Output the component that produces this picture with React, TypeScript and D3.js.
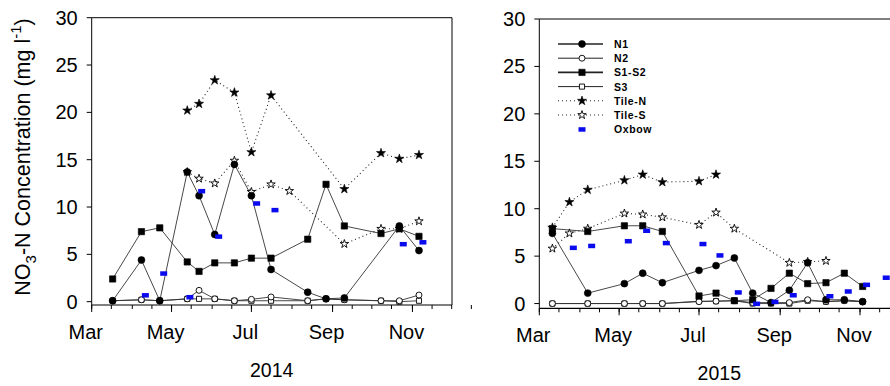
import React from 'react';
import * as d3 from 'd3';

// sampling dates
const dates2014 = ['2014-03-17', '2014-04-08', '2014-04-22', '2014-05-13', '2014-05-22', '2014-06-03', '2014-06-18', '2014-07-01', '2014-07-16', '2014-07-30', '2014-08-13', '2014-08-27', '2014-09-10', '2014-10-08', '2014-10-22', '2014-11-06'];
const dates2015 = ['2015-03-11', '2015-03-24', '2015-04-07', '2015-05-05', '2015-05-19', '2015-06-03', '2015-07-01', '2015-07-14', '2015-07-28', '2015-08-11', '2015-08-25', '2015-09-08', '2015-09-22', '2015-10-06', '2015-10-20', '2015-11-03'];

const n1_2014 = [0.1, 4.4, 0.1, 13.7, 11.2, 7.1, 14.5, 11.2, 3.4, null, 1.0, 0.3, 0.4, null, 8.0, 5.4];
const n2_2014 = [0.1, 0.2, 0.1, 0.3, 1.2, 0.3, 0.1, 0.25, 0.5, null, 0.1, 0.3, 0.2, 0.1, 0.1, 0.7];
const s1s2_2014 = [2.4, 7.4, 7.8, 4.2, 3.2, 4.1, 4.1, 4.6, 4.6, null, 6.6, 12.4, 8.0, 7.2, 7.7, 6.9];
const s3_2014 = [0.1, 0.2, 0.1, 0.3, 0.3, 0.3, 0.1, 0.1, 0.1, null, 0.1, 0.3, 0.2, 0.1, 0.0, 0.1];
const tileN_2014 = [null, null, null, 20.2, 20.9, 23.4, 22.1, 15.8, 21.8, null, null, null, 11.9, 15.7, 15.1, 15.5];
const tileS_2014 = [null, null, null, 13.7, 13.0, 12.5, 14.9, 11.6, 12.4, 11.7, null, null, 6.1, 7.7, 7.7, 8.5];
const oxDates2014 = ['2014-04-11', '2014-04-25', '2014-05-15', '2014-05-24', '2014-06-06', '2014-07-05', '2014-07-19', '2014-10-25', '2014-11-09'];
const oxbow2014 = [0.7, 3.0, 0.5, 11.7, 6.9, 10.4, 9.7, 6.1, 6.3];

const n1_2015 = [7.4, null, 1.1, 2.1, 3.2, 2.2, 3.5, 4.0, 4.8, 1.1, 0.1, 1.4, 4.3, 0.4, 0.4, 0.2];
const n2_2015 = [0.0, null, 0.0, 0.0, 0.0, 0.0, 0.2, 0.25, 0.3, 0.1, 0.1, 0.1, 0.4, 0.2, 0.3, 0.2];
const s1s2_2015 = [7.9, null, 7.6, 8.2, 8.2, 7.6, 0.8, 1.1, 0.3, 0.4, 1.6, 3.2, 2.1, 2.2, 3.2, 1.8];
const s3_2015 = [0.0, null, 0.0, 0.0, 0.0, 0.0, 0.25, 0.25, 0.3, 0.0, 0.0, 0.0, 0.3, 0.2, 0.3, 0.2];
const tileN_2015 = [8.0, 10.7, 12.0, 13.0, 13.6, 12.8, 12.9, 13.6, null, null, null, null, null, null, null, null];
const tileS_2015 = [5.8, 7.4, 7.9, 9.5, 9.4, 9.1, 8.3, 9.6, 7.9, null, null, 4.3, 4.4, 4.5, null, null];
const oxDates2015 = ['2015-03-27', '2015-04-10', '2015-05-08', '2015-05-22', '2015-06-06', '2015-07-04', '2015-07-17', '2015-07-31', '2015-08-14', '2015-08-28', '2015-09-11', '2015-10-09', '2015-10-23', '2015-11-06', '2015-11-21'];
const oxbow2015 = [5.9, 6.1, 6.6, 7.7, 6.4, 6.3, 5.1, 1.2, 0.0, 0.2, 0.9, 0.8, 1.3, 2.0, 2.75];

const yTicks = [0, 5, 10, 15, 20, 25, 30];
const monthLabels = ['Mar', 'May', 'Jul', 'Sep', 'Nov'];
const legendNames = ['N1', 'N2', 'S1-S2', 'S3', 'Tile-N', 'Tile-S', 'Oxbow'];

const parse = d3.timeParse('%Y-%m-%d');
const font = 'Liberation Sans, Arial, sans-serif';
const BLUE = '#0a0aee';

type Style = { shape: 'circle' | 'square' | 'star'; filled: boolean; dotted: boolean };
const styles: Style[] = [
  { shape: 'circle', filled: true, dotted: false },
  { shape: 'circle', filled: false, dotted: false },
  { shape: 'square', filled: true, dotted: false },
  { shape: 'square', filled: false, dotted: false },
  { shape: 'star', filled: true, dotted: true },
  { shape: 'star', filled: false, dotted: true },
];
// open markers first, filled ones on top
const markerOrder = [5, 3, 1, 4, 2, 0];

const symbolPath = (s: Style) => {
  const t = s.shape === 'circle' ? d3.symbolCircle : s.shape === 'square' ? d3.symbolSquare : d3.symbolStar;
  const size = s.shape === 'star' ? (s.filled ? 26 : 22) : s.shape === 'circle' ? (s.filled ? 38 : 28) : (s.filled ? 40 : 26);
  return d3.symbol().type(t).size(size)()!;
};

function Marker({ s, x, y }: { s: Style; x: number; y: number }) {
  return (
    <path d={symbolPath(s)} transform={`translate(${x},${y})`}
      fill={s.filled ? '#000' : '#fff'} stroke="#000" strokeWidth={s.filled ? 0.6 : 0.9} />
  );
}

function Panel({ year, left, top, bottom, yMin, dates, series, oxDates, oxVals, right }:
  { year: number; left: number; top: number; bottom: number; yMin: number; dates: string[]; series: (number | null)[][]; oxDates: string[]; oxVals: number[]; right: number }) {
  const x = d3.scaleTime()
    .domain([new Date(year, 2, 1), new Date(year, 11, 1)])
    .range([left, left + 360]);
  const y = d3.scaleLinear().domain([yMin, 30]).range([bottom, top]);
  const d = dates.map(parse) as Date[];
  const line = d3.line<[Date, number]>().x(p => x(p[0])).y(p => y(p[1]));

  const majors = [2, 4, 6, 8, 10].map(m => new Date(year, m, 1));
  const minors: Date[] = [];
  for (let m = 2; m < 12; m++) {
    minors.push(new Date(year, m, 1));
    minors.push(new Date(year, m, 16));
  }

  return (
    <g>
      <path d={`M${left},${bottom}V${top}H${right}${right < 890 ? `V${bottom}` : ''}`} fill="none" stroke="#000" strokeWidth={1} />
      <line x1={left} x2={right} y1={bottom} y2={bottom} stroke="#000" strokeWidth={1.2} />
      {yTicks.map(t => (
        <g key={t}>
          <line x1={left - 5} x2={left} y1={y(t)} y2={y(t)} stroke="#000" />
          <text x={left - 14} y={y(t) + 7} textAnchor="end" fontSize={20} fontFamily={font}>{t}</text>
        </g>
      ))}
      {minors.map((m, i) => (
        <line key={'mi' + i} x1={x(m)} x2={x(m)} y1={bottom} y2={bottom + 4} stroke="#000" />
      ))}
      {majors.map((m, i) => (
        <g key={'ma' + i}>
          <line x1={x(m)} x2={x(m)} y1={bottom} y2={bottom + 7} stroke="#000" />
          <text x={x(m) - 6} y={bottom + 34} textAnchor="middle" fontSize={20} fontFamily={font}>{monthLabels[i]}</text>
        </g>
      ))}
      <text x={left + 180} y={bottom + 72} textAnchor="middle" fontSize={19.5} fontFamily={font}>{year}</text>

      {series.map((vals, si) => {
        const pts = vals.map((v, i) => [d[i], v] as [Date, number | null]).filter(p => p[1] !== null) as [Date, number][];
        return (
          <path key={'l' + si} d={line(pts)!} fill="none" stroke={styles[si].dotted ? '#222' : '#333'}
            strokeWidth={styles[si].dotted ? 1.1 : 0.9} strokeDasharray={styles[si].dotted ? '1,3' : undefined} />
        );
      })}
      {markerOrder.map(si => (
        <g key={'m' + si}>
          {series[si].map((v, i) => v === null ? null : <Marker key={i} s={styles[si]} x={x(d[i])} y={y(v)} />)}
        </g>
      ))}
      {oxVals.map((v, i) => {
        const dt = parse(oxDates[i]) as Date;
        return <rect key={'o' + i} x={x(dt) - 3.5} y={y(v) - 2} width={7} height={4.5} fill={BLUE} />;
      })}
    </g>
  );
}

function Legend() {
  const rowY = (i: number) => 44 + i * 14.2;
  return (
    <g>
      {legendNames.map((name, i) => (
        <g key={name}>
          {i < 6 && (
            <line x1={558} x2={603} y1={rowY(i)} y2={rowY(i)} stroke="#222"
              strokeWidth={i === 0 || i === 2 ? 1.6 : 1} strokeDasharray={styles[i].dotted ? '1,3' : undefined} />
          )}
          {i < 6 ? <Marker s={styles[i]} x={582} y={rowY(i)} /> :
            <rect x={578.5} y={rowY(i) - 2} width={7} height={4.5} fill={BLUE} />}
          <text x={614} y={rowY(i) + 4} fontSize={10.5} fontWeight="bold" fontFamily={font} letterSpacing={0.6}>{name}</text>
        </g>
      ))}
    </g>
  );
}

export default function App() {
  return (
    <svg width={890} height={386} style={{ position: 'absolute', left: 0, top: 0, background: '#fff' }}>
      <rect width={890} height={386} fill="#fff" />
      <Panel year={2014} left={91.7} right={452} top={17.7} bottom={305} yMin={-0.35} dates={dates2014}
        series={[n1_2014, n2_2014, s1s2_2014, s3_2014, tileN_2014, tileS_2014]} oxDates={oxDates2014} oxVals={oxbow2014} />
      <Panel year={2015} left={539.3} right={900} top={19} bottom={308.3} yMin={-0.5} dates={dates2015}
        series={[n1_2015, n2_2015, s1s2_2015, s3_2015, tileN_2015, tileS_2015]} oxDates={oxDates2015} oxVals={oxbow2015} />
      <Legend />
      <text transform="translate(30,157) rotate(-90)" textAnchor="middle" fontSize={21.5} fontFamily={font}>
        NO<tspan fontSize={15} dy={6}>3</tspan><tspan dy={-6}>-N Concentration (mg l</tspan>
        <tspan fontSize={15} dy={-9}>-1</tspan><tspan dy={9}>)</tspan>
      </text>
    </svg>
  );
}
